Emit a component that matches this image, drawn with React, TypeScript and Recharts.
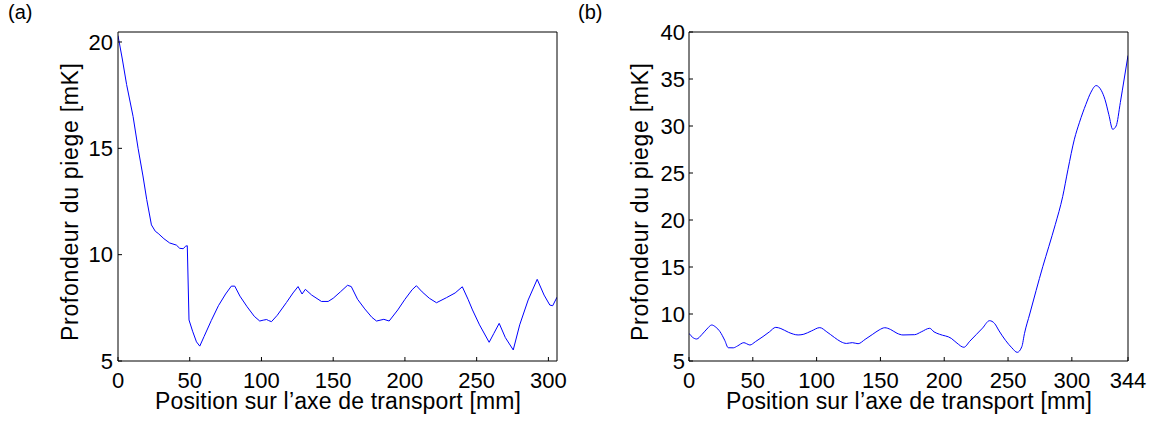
import { LineChart, Line, XAxis, YAxis } from "recharts";

// panel (a): trap depth along the transport axis, first section
const posA = [
  0, 3, 6, 10.5, 14, 17.4, 20, 23.3, 26, 28, 32, 36, 40.7, 43, 45.4, 47.2, 48.3, 49.5, 52, 54.7,
  57, 60, 65, 70, 75, 79, 81.4, 85, 90, 95, 98.8, 101.2, 103.6, 105, 107, 111, 117.4, 122, 125.5, 128.3,
  130.6, 135, 141.8, 146.5, 150, 155, 160, 162.6, 167, 172, 177, 180.2, 185.3, 189, 195, 200, 205, 208,
  212, 217, 222, 229, 235, 240, 244, 247.1, 252, 258.7, 262, 265.7, 270, 275.5, 280, 285.9, 292.2, 297,
  301, 303, 306,
];
const depthA = [
  20.3, 19.2, 18.0, 16.5, 15.0, 13.7, 12.6, 11.4, 11.1, 11.0, 10.75, 10.55, 10.45, 10.3, 10.28, 10.4, 10.42, 6.93, 6.4, 5.9,
  5.7, 6.15, 6.9, 7.6, 8.15, 8.52, 8.52, 8.05, 7.55, 7.1, 6.88, 6.92, 6.95, 6.9, 6.85, 7.15, 7.75, 8.2, 8.5, 8.15,
  8.37, 8.1, 7.8, 7.8, 7.95, 8.25, 8.56, 8.5, 7.9, 7.45, 7.05, 6.88, 6.96, 6.88, 7.4, 7.9, 8.35, 8.54,
  8.25, 7.95, 7.74, 7.98, 8.2, 8.49, 7.9, 7.4, 6.7, 5.88, 6.3, 6.77, 6.1, 5.52, 6.7, 7.87, 8.84, 8.1,
  7.63, 7.6, 8.0,
];

// panel (b): full transport axis
const posB = [
  0, 3, 6, 10, 14, 17.8, 21, 24.3, 28, 30.8, 34.7, 38, 43, 45, 47.7, 52, 58, 63, 68, 72,
  78, 85.5, 90, 96, 102.5, 108, 114, 119, 123.4, 128, 132.5, 138, 144, 149, 153.4, 158, 163, 167.7, 176.8, 182,
  188.6, 192, 196.4, 205.5, 210, 215.4, 220, 225, 230, 235.5, 239.4, 243, 248, 253, 257.2, 260.8, 262.9, 267, 272, 277.2,
  282, 287, 292.8, 297, 302, 306, 311, 315, 319, 323, 326, 329, 332, 334.7, 338, 341, 344,
];
const depthB = [
  7.94, 7.5, 7.34, 7.8, 8.4, 8.83, 8.6, 8.12, 7.2, 6.41, 6.4, 6.6, 6.95, 6.85, 6.7, 7.05, 7.6, 8.1, 8.58, 8.45,
  8.05, 7.77, 7.85, 8.2, 8.55, 8.1, 7.5, 7.05, 6.87, 6.95, 6.84, 7.3, 7.85, 8.3, 8.54, 8.35, 7.95, 7.77, 7.8, 8.1,
  8.48, 8.1, 7.84, 7.41, 6.9, 6.46, 7.1, 7.8, 8.5, 9.29, 9.0, 8.2, 7.2, 6.4, 5.92, 6.52, 7.94, 10.0, 12.5, 15.03,
  17.2, 19.5, 22.48, 25.4, 28.6, 30.4, 32.3, 33.6, 34.3, 33.8, 32.8, 31.2, 29.65, 30.0, 32.5, 35.0, 37.5,
];

const xTicksA = [0, 50, 100, 150, 200, 250, 300];
const yTicksA = [5, 10, 15, 20];
const xTicksB = [0, 50, 100, 150, 200, 250, 300, 344];
const yTicksB = [5, 10, 15, 20, 25, 30, 35, 40];

const dataA = posA.map((x, i) => ({ x, y: depthA[i] }));
const dataB = posB.map((x, i) => ({ x, y: depthB[i] }));

const FONT = '"Liberation Sans", Arial, Helvetica, sans-serif';
const tickStyle = { fontSize: 22, fill: "#000", fontFamily: FONT };
const axisLine = { stroke: "#000", strokeWidth: 1 };

// plot box: left, right edges given from chart's own left; top 32, bottom 361
function Panel({ data, xDomain, yDomain, xTicks, yTicks, width, plotLeft, plotRight, curve, yTickMargin }: any) {
  return (
    <LineChart
      width={width}
      height={423}
      data={data}
      margin={{ top: 31, right: width - plotRight - 1, bottom: 32, left: plotLeft - 40 }}
    >
      <XAxis
        dataKey="x"
        type="number"
        domain={xDomain}
        ticks={xTicks}
        interval={0}
        height={30}
        tick={tickStyle}
        tickSize={-4}
        tickMargin={15}
        axisLine={axisLine}
        tickLine={axisLine}
        allowDataOverflow
      />
      <XAxis
        xAxisId="top"
        orientation="top"
        dataKey="x"
        type="number"
        domain={xDomain}
        ticks={xTicks}
        interval={0}
        height={1}
        tick={false}
        tickSize={-4}
        axisLine={axisLine}
        tickLine={axisLine}
        allowDataOverflow
      />
      <YAxis
        type="number"
        domain={yDomain}
        ticks={yTicks}
        interval={0}
        width={40}
        tick={tickStyle}
        tickSize={-4}
        tickMargin={yTickMargin}
        axisLine={axisLine}
        tickLine={axisLine}
        allowDataOverflow
      />
      <YAxis
        yAxisId="right"
        orientation="right"
        type="number"
        domain={yDomain}
        ticks={yTicks}
        interval={0}
        width={1}
        tick={false}
        tickSize={-4}
        axisLine={axisLine}
        tickLine={axisLine}
        allowDataOverflow
      />
      <Line type={curve} dataKey="y" stroke="#0000ff" strokeWidth={1} dot={false} isAnimationActive={false} />
    </LineChart>
  );
}

export default function App() {
  const xLabel = "Position sur l\u2019axe de transport [mm]";
  const yLabel = "Profondeur du piege [mK]";
  return (
    <div style={{ position: "absolute", left: 0, top: 0, width: 1161, height: 423, background: "#fff" }}>
      <div style={{ position: "absolute", left: 0, top: 0 }}>
        <Panel data={dataA} xDomain={[0, 306]} yDomain={[5, 20.47]} xTicks={xTicksA} yTicks={yTicksA}
          width={580} plotLeft={118} plotRight={557} curve="linear" yTickMargin={9} />
      </div>
      <div style={{ position: "absolute", left: 580, top: 0 }}>
        <Panel data={dataB} xDomain={[0, 344]} yDomain={[5, 40]} xTicks={xTicksB} yTicks={yTicksB}
          width={581} plotLeft={109} plotRight={548} curve="monotone" yTickMargin={8} />
      </div>
      <svg width={1161} height={423} style={{ position: "absolute", left: 0, top: 0, pointerEvents: "none" }}
        fontFamily={FONT} fill="#000">
        <text x={8} y={19} fontSize={20}>(a)</text>
        <text x={578} y={19} fontSize={20}>(b)</text>
        <text x={338} y={409} fontSize={23} textAnchor="middle" textLength={366} lengthAdjust="spacing">{xLabel}</text>
        <text x={909} y={409} fontSize={23} textAnchor="middle" textLength={366} lengthAdjust="spacing">{xLabel}</text>
        <text transform="translate(77.5,202) rotate(-90)" fontSize={23} textAnchor="middle" textLength={278} lengthAdjust="spacing">{yLabel}</text>
        <text transform="translate(648,202) rotate(-90)" fontSize={23} textAnchor="middle" textLength={278} lengthAdjust="spacing">{yLabel}</text>
      </svg>
    </div>
  );
}
